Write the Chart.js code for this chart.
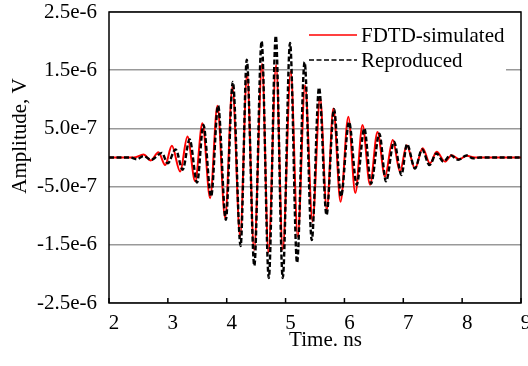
<!DOCTYPE html>
<html><head><meta charset="utf-8">
<script src="https://cdn.jsdelivr.net/npm/chart.js@4.4.1/dist/chart.umd.min.js"></script>
<style>html,body{margin:0;padding:0;background:#fff;overflow:hidden}#wrap{width:528px;height:366px}</style>
</head><body><div id="wrap"><canvas id="c" width="528" height="366"></canvas></div>
<script>
// ---- data (time in ns, amplitude in V) ----
const fdtdTime = [2.0, 2.42, 2.586, 2.711, 2.840, 2.954, 3.068, 3.209, 3.333, 3.464, 3.587, 3.718, 3.842, 3.973, 4.097, 4.228, 4.346, 4.465, 4.601, 4.708, 4.839, 4.952, 5.088, 5.207, 5.331, 5.458, 5.586, 5.700, 5.812, 5.934, 6.066, 6.185, 6.307, 6.435, 6.562, 6.689, 6.820, 6.944, 7.058, 7.199, 7.329, 7.453, 7.567, 7.708, 7.822, 7.951, 8.076, 8.217, 9.0];
const fdtdAmp = [0, 0, 0.05e-6, -0.05e-6, 0.09e-6, -0.13e-6, 0.20e-6, -0.24e-6, 0.36e-6, -0.41e-6, 0.59e-6, -0.70e-6, 0.89e-6, -1.04e-6, 1.21e-6, -1.36e-6, 1.44e-6, -1.59e-6, 1.61e-6, -1.63e-6, 1.59e-6, -1.58e-6, 1.48e-6, -1.36e-6, 1.24e-6, -1.10e-6, 1.03e-6, -0.90e-6, 0.84e-6, -0.76e-6, 0.70e-6, -0.61e-6, 0.56e-6, -0.47e-6, 0.44e-6, -0.33e-6, 0.30e-6, -0.24e-6, 0.21e-6, -0.19e-6, 0.16e-6, -0.10e-6, 0.10e-6, -0.07e-6, 0.04e-6, -0.03e-6, 0.03e-6, 0, 0];
const reprTime = [2.0, 2.36, 2.474, 2.586, 2.716, 2.898, 2.997, 3.132, 3.251, 3.370, 3.497, 3.604, 3.735, 3.854, 3.985, 4.104, 4.236, 4.341, 4.469, 4.593, 4.715, 4.834, 4.952, 5.076, 5.195, 5.323, 5.445, 5.569, 5.696, 5.823, 5.942, 6.078, 6.209, 6.338, 6.452, 6.593, 6.706, 6.842, 6.969, 7.063, 7.199, 7.318, 7.445, 7.564, 7.683, 7.801, 7.934, 8.076, 8.188, 8.30, 9.0];
const reprAmp = [0, 0, -0.03e-6, 0.026e-6, -0.04e-6, 0.08e-6, -0.10e-6, 0.14e-6, -0.21e-6, 0.31e-6, -0.43e-6, 0.56e-6, -0.67e-6, 0.89e-6, -1.07e-6, 1.30e-6, -1.52e-6, 1.68e-6, -1.86e-6, 2.00e-6, -2.07e-6, 2.09e-6, -2.07e-6, 1.97e-6, -1.81e-6, 1.64e-6, -1.42e-6, 1.20e-6, -0.99e-6, 0.83e-6, -0.67e-6, 0.61e-6, -0.47e-6, 0.50e-6, -0.45e-6, 0.41e-6, -0.41e-6, 0.27e-6, -0.30e-6, 0.23e-6, -0.19e-6, 0.14e-6, -0.13e-6, 0.07e-6, -0.07e-6, 0.04e-6, -0.04e-6, 0.035e-6, -0.015e-6, 0, 0];
const seriesNames = ['FDTD-simulated', 'Reproduced'];
const xTickLabels = ['2', '3', '4', '5', '6', '7', '8', '9'];
const yTickLabels = ['-2.5e-6', '-1.5e-6', '-5.0e-7', '5.0e-7', '1.5e-6', '2.5e-6'];
const xTitle = 'Time. ns';
const yTitle = 'Amplitude, V';

const FONT = '"Liberation Serif","Times New Roman",serif';
const toXY = (t, v) => t.map((x, i) => ({x: x, y: v[i]}));

const decor = {
  id: 'decor',
  beforeDatasetsDraw(chart) {
    const ctx = chart.ctx;
    ctx.save();
    ctx.fillStyle = '#fff';
    ctx.fillRect(307, 21, 199, 52);
    ctx.restore();
  },
  afterDraw(chart) {
    const {ctx, chartArea: a, scales: {x}} = chart;
    ctx.save();
    ctx.strokeStyle = '#000';
    ctx.lineWidth = 1.5;
    x.ticks.forEach(t => {
      const px = x.getPixelForValue(t.value);
      ctx.beginPath(); ctx.moveTo(px, a.bottom); ctx.lineTo(px, a.bottom - 5); ctx.stroke();
    });
    ctx.strokeRect(a.left, a.top, a.right - a.left, a.bottom - a.top);
    // legend, in series order
    const rows = [35, 60];
    ctx.font = '21px ' + FONT;
    ctx.fillStyle = '#000';
    ctx.textAlign = 'left';
    ctx.textBaseline = 'middle';
    seriesNames.forEach((name, i) => {
      const d = chart.data.datasets.find(ds => ds.label === name);
      ctx.save();
      ctx.strokeStyle = d.borderColor;
      ctx.lineWidth = d.legendWidth;
      ctx.setLineDash(d.borderDash || []);
      ctx.beginPath(); ctx.moveTo(309, rows[i]); ctx.lineTo(357, rows[i]); ctx.stroke();
      ctx.restore();
      ctx.fillText(d.label, 361, rows[i] + 1);
    });
    // axis titles
    ctx.textAlign = 'center';
    ctx.fillText(xTitle, 325.5, 340);
    ctx.translate(20, 136);
    ctx.rotate(-Math.PI / 2);
    ctx.fillText(yTitle, 0, 0);
    ctx.restore();
  }
};

new Chart(document.getElementById('c'), {
  type: 'line',
  data: {
    datasets: [
      {label: seriesNames[1], data: toXY(reprTime, reprAmp), borderColor: '#000', borderWidth: 2.4, legendWidth: 1.5,
       borderDash: [5, 2.5], pointRadius: 0, fill: false, cubicInterpolationMode: 'monotone', order: 0},
      {label: seriesNames[0], data: toXY(fdtdTime, fdtdAmp), borderColor: '#ff0000', borderWidth: 2, legendWidth: 1.5,
       pointRadius: 0, fill: false, cubicInterpolationMode: 'monotone', order: 1}
    ]
  },
  options: {
    responsive: false,
    devicePixelRatio: 1,
    animation: false,
    parsing: false,
    layout: {padding: {top: 12, right: 7, left: 0, bottom: 0}},
    plugins: {legend: {display: false}, tooltip: {enabled: false}},
    scales: {
      x: {
        type: 'linear', min: 2, max: 9,
        ticks: {stepSize: 1, color: '#000', font: {family: FONT, size: 21}, padding: 8, labelOffset: 5,
                maxRotation: 0, autoSkip: false, callback: (v, i) => xTickLabels[i]},
        grid: {display: false, drawTicks: false},
        border: {display: false},
        afterFit: s => { s.height = 63; s.paddingLeft = 0; s.paddingRight = 0; }
      },
      y: {
        type: 'linear', min: -2.5e-6, max: 2.5e-6,
        ticks: {stepSize: 1e-6, color: '#000', font: {family: FONT, size: 21}, padding: 12,
                callback: (v, i) => yTickLabels[i]},
        grid: {drawTicks: false, color: '#999', lineWidth: 1.5},
        border: {display: false},
        afterFit: s => { s.width = 109; s.paddingTop = 0; s.paddingBottom = 0; }
      }
    }
  },
  plugins: [decor]
});
</script>
</body></html>
